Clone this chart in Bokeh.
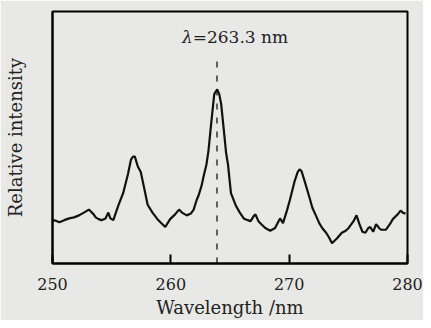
from bokeh.plotting import figure
from bokeh.models import Range1d, FixedTicker, Label
from bokeh.embed import file_html
from bokeh.resources import INLINE

wavelength = [
    250.00, 250.17, 250.58, 250.99, 251.41, 251.82, 252.24, 252.65, 253.07, 253.48,
    253.65, 253.90, 254.14, 254.48, 254.72, 254.89, 255.14, 255.55, 255.97, 256.38,
    256.63, 256.80, 256.96, 257.21, 257.46, 257.79, 258.04, 258.45, 258.87, 259.12,
    259.53, 259.94, 260.36, 260.69, 260.94, 261.35, 261.69, 261.93, 262.18, 262.35,
    262.60, 262.76, 263.01, 263.18, 263.43, 263.67, 263.92, 264.09, 264.25, 264.50,
    264.67, 264.83, 265.08, 265.50, 265.83, 266.16, 266.49, 266.74, 266.99, 267.15,
    267.40, 267.65, 267.98, 268.40, 268.81, 269.06, 269.23, 269.48, 269.81, 270.06,
    270.47, 270.72, 270.88, 271.05, 271.30, 271.71, 271.96, 272.29, 272.54, 272.79,
    273.12, 273.37, 273.62, 274.03, 274.45, 274.78, 275.03, 275.44, 275.69, 275.94,
    276.19, 276.44, 276.69, 276.85, 277.10, 277.35, 277.60, 277.76, 278.18, 278.51,
    278.76, 279.17, 279.42, 279.59, 279.83,
]
intensity = [
    0.168, 0.172, 0.164, 0.172, 0.179, 0.183, 0.191, 0.202, 0.214, 0.195,
    0.183, 0.176, 0.172, 0.179, 0.202, 0.179, 0.172, 0.229, 0.279, 0.355,
    0.412, 0.424, 0.424, 0.385, 0.363, 0.290, 0.233, 0.202, 0.176, 0.164,
    0.145, 0.176, 0.195, 0.214, 0.202, 0.191, 0.198, 0.214, 0.252, 0.271,
    0.309, 0.344, 0.393, 0.447, 0.565, 0.672, 0.691, 0.672, 0.634, 0.519,
    0.439, 0.393, 0.279, 0.229, 0.202, 0.179, 0.172, 0.168, 0.187, 0.195,
    0.168, 0.156, 0.141, 0.130, 0.141, 0.164, 0.179, 0.160, 0.210, 0.252,
    0.328, 0.363, 0.374, 0.366, 0.328, 0.263, 0.221, 0.187, 0.160, 0.141,
    0.122, 0.103, 0.080, 0.099, 0.122, 0.130, 0.141, 0.168, 0.191, 0.156,
    0.126, 0.122, 0.141, 0.145, 0.126, 0.156, 0.141, 0.134, 0.134, 0.156,
    0.176, 0.195, 0.210, 0.202, 0.198,
]
x_ticks = [250, 260, 270, 280]
peak_line_x = [263.9, 263.9]
peak_line_y = [0.0, 0.81]
annotation_text = "=263.3 nm"
x_title = "Wavelength /nm"
y_title = "Relative intensity"

SERIF = "DejaVu Serif"
BG = "#e8e8e6"
TXT = "#222222"

p = figure(width=423, height=320, output_backend="svg", toolbar_location=None,
           x_range=Range1d(250, 280), y_range=Range1d(0, 1),
           min_border_left=52, min_border_right=16, min_border_top=11, min_border_bottom=54,
           background_fill_color=BG, border_fill_color=BG)

p.xgrid.visible = False
p.ygrid.visible = False
p.outline_line_color = "black"
p.outline_line_width = 2

xa = p.xaxis[0]
xa.ticker = FixedTicker(ticks=x_ticks)
xa.major_tick_in = 9
xa.major_tick_out = 0
xa.minor_tick_line_color = None
xa.major_tick_line_color = "black"
xa.major_tick_line_width = 2
xa.axis_line_color = "black"
xa.axis_line_width = 2
xa.major_label_text_font = SERIF
xa.major_label_text_font_size = "16px"
xa.major_label_text_color = TXT
xa.major_label_text_line_height = 1.0
xa.major_label_standoff = 14
xa.axis_label = x_title
xa.axis_label_text_font = SERIF
xa.axis_label_text_font_size = "18px"
xa.axis_label_text_font_style = "normal"
xa.axis_label_text_color = TXT
xa.axis_label_text_line_height = 1.0
xa.axis_label_standoff = 4

ya = p.yaxis[0]
ya.ticker = FixedTicker(ticks=[])
ya.major_tick_in = 0
ya.major_tick_out = 0
ya.major_label_standoff = 0
ya.minor_tick_line_color = None
ya.axis_line_color = "black"
ya.axis_line_width = 2
ya.axis_label = y_title
ya.axis_label_text_font = SERIF
ya.axis_label_text_font_size = "18px"
ya.axis_label_text_font_style = "normal"
ya.axis_label_text_color = TXT
ya.axis_label_text_line_height = 1.0
ya.axis_label_standoff = 27

p.line(peak_line_x, peak_line_y, line_color="#333333", line_width=1.5, line_dash="6 8")
p.line(wavelength, intensity, line_color="#111111", line_width=2.2)

p.add_layout(Label(x=261.85, y=0.897, text="λ", text_align="right", text_baseline="middle",
                   text_font=SERIF, text_font_size="17px", text_font_style="italic",
                   text_color=TXT))
p.add_layout(Label(x=261.85, y=0.897, text=annotation_text, text_align="left",
                   text_baseline="middle", text_font=SERIF, text_font_size="17px",
                   text_color=TXT))

open("out.html", "w").write(file_html(p, INLINE))
